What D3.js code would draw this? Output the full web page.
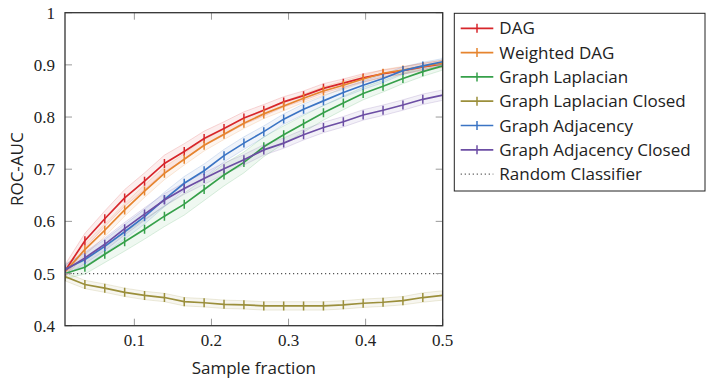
<!DOCTYPE html>
<html>
<head>
<meta charset="utf-8">
<script src="https://cdn.jsdelivr.net/npm/d3@7"></script>
<style>
  body { margin: 0; background: #fff; }
  svg { display: block; }
</style>
</head>
<body>
<div id="chart"></div>
<script>
// sample fractions (x positions of the points)
var fractions = [0.01, 0.0358, 0.0616, 0.0874, 0.1132, 0.139, 0.1647, 0.1905, 0.2163, 0.2421,
                 0.2679, 0.2937, 0.3195, 0.3453, 0.3711, 0.3968, 0.4226, 0.4484, 0.4742, 0.5];

var seriesNames = ["DAG", "Weighted DAG", "Graph Laplacian", "Graph Laplacian Closed",
                   "Graph Adjacency", "Graph Adjacency Closed"];
var seriesColors = ["#d7262b", "#e6842e", "#36a04a", "#9b8f3b", "#3b74c4", "#6c4ea4"];

// mean ROC-AUC per series
var dag = [0.505, 0.563, 0.605, 0.645, 0.677, 0.711, 0.734, 0.759, 0.778, 0.798,
           0.813, 0.829, 0.841, 0.855, 0.865, 0.875, 0.883, 0.889, 0.896, 0.902];
var weightedDag = [0.503, 0.546, 0.583, 0.622, 0.658, 0.692, 0.719, 0.746, 0.767, 0.788,
                   0.806, 0.821, 0.836, 0.850, 0.861, 0.873, 0.884, 0.890, 0.897, 0.903];
var laplacian = [0.500, 0.512, 0.537, 0.561, 0.585, 0.610, 0.633, 0.661, 0.689, 0.713,
                 0.743, 0.766, 0.787, 0.808, 0.827, 0.845, 0.859, 0.874, 0.887, 0.898];
var laplacianClosed = [0.494, 0.479, 0.472, 0.464, 0.458, 0.454, 0.446, 0.444, 0.441, 0.440,
                       0.438, 0.438, 0.438, 0.438, 0.440, 0.443, 0.445, 0.448, 0.454, 0.458];
var adjacency = [0.508, 0.527, 0.552, 0.580, 0.609, 0.642, 0.673, 0.697, 0.726, 0.750,
                 0.772, 0.796, 0.815, 0.831, 0.847, 0.861, 0.874, 0.889, 0.898, 0.906];
var adjacencyClosed = [0.506, 0.530, 0.556, 0.586, 0.614, 0.641, 0.663, 0.682, 0.701, 0.718,
                       0.737, 0.750, 0.766, 0.780, 0.791, 0.804, 0.813, 0.823, 0.834, 0.842];

// half-width of the shaded bands
var dagSpread = [0.012, 0.014, 0.015, 0.016, 0.016, 0.016, 0.015, 0.014, 0.013, 0.012,
                 0.011, 0.010, 0.009, 0.009, 0.008, 0.008, 0.007, 0.007, 0.007, 0.007];
var weightedDagSpread = [0.010, 0.011, 0.012, 0.012, 0.012, 0.012, 0.011, 0.011, 0.010, 0.010,
                         0.009, 0.009, 0.008, 0.008, 0.008, 0.007, 0.007, 0.007, 0.006, 0.006];
var laplacianSpread = [0.010, 0.013, 0.016, 0.018, 0.019, 0.020, 0.021, 0.021, 0.021, 0.020,
                       0.019, 0.017, 0.016, 0.014, 0.013, 0.012, 0.011, 0.010, 0.009, 0.008];
var laplacianClosedSpread = [0.008, 0.008, 0.008, 0.008, 0.008, 0.008, 0.008, 0.008, 0.008, 0.008,
                             0.008, 0.008, 0.008, 0.008, 0.008, 0.008, 0.008, 0.008, 0.009, 0.009];
var adjacencySpread = [0.010, 0.012, 0.013, 0.014, 0.014, 0.014, 0.013, 0.013, 0.012, 0.012,
                       0.011, 0.010, 0.010, 0.009, 0.009, 0.008, 0.008, 0.007, 0.007, 0.006];
var adjacencyClosedSpread = [0.010, 0.011, 0.012, 0.012, 0.012, 0.012, 0.011, 0.011, 0.011, 0.010,
                             0.010, 0.010, 0.010, 0.010, 0.010, 0.010, 0.010, 0.010, 0.010, 0.010];

var randomLevel = 0.5;
var xTicks = [0.1, 0.2, 0.3, 0.4, 0.5];
var yTicks = [0.4, 0.5, 0.6, 0.7, 0.8, 0.9, 1];

var means = [dag, weightedDag, laplacian, laplacianClosed, adjacency, adjacencyClosed];
var spreads = [dagSpread, weightedDagSpread, laplacianSpread, laplacianClosedSpread,
               adjacencySpread, adjacencyClosedSpread];

var series = seriesNames.map(function(name, i) {
  return {
    name: name,
    color: seriesColors[i],
    points: fractions.map(function(f, j) {
      return {x: f, y: means[i][j], s: spreads[i][j]};
    })
  };
});

// dimensions
var W = 706, H = 384;
var plot = {left: 65, right: 442.7, top: 12.7, bottom: 325.7};

var svg = d3.select("#chart").append("svg")
  .attr("width", W)
  .attr("height", H);

var x = d3.scaleLinear().domain([0.01, 0.5]).range([plot.left, plot.right]);
var y = d3.scaleLinear().domain([0.4, 1]).range([plot.bottom, plot.top]);

svg.append("clipPath").attr("id", "clip")
  .append("rect")
  .attr("x", plot.left).attr("y", plot.top)
  .attr("width", plot.right - plot.left).attr("height", plot.bottom - plot.top);

var g = svg.append("g").attr("clip-path", "url(#clip)");

var area = d3.area()
  .x(function(d) { return x(d.x); })
  .y0(function(d) { return y(d.y - d.s); })
  .y1(function(d) { return y(d.y + d.s); });
var upper = d3.line().x(function(d) { return x(d.x); }).y(function(d) { return y(d.y + d.s); });
var lower = d3.line().x(function(d) { return x(d.x); }).y(function(d) { return y(d.y - d.s); });
var line = d3.line().x(function(d) { return x(d.x); }).y(function(d) { return y(d.y); });

// bands
series.forEach(function(s) {
  g.append("path").attr("d", area(s.points))
    .attr("fill", s.color).attr("fill-opacity", 0.08).attr("stroke", "none");
  [upper, lower].forEach(function(fn) {
    g.append("path").attr("d", fn(s.points))
      .attr("fill", "none").attr("stroke", s.color)
      .attr("stroke-opacity", 0.22).attr("stroke-width", 0.8);
  });
});

// random classifier
g.append("line")
  .attr("x1", plot.left).attr("x2", plot.right)
  .attr("y1", y(randomLevel)).attr("y2", y(randomLevel))
  .attr("stroke", "#555").attr("stroke-width", 1.2)
  .attr("stroke-dasharray", "1.2,2.8");

// lines with | marks
series.forEach(function(s) {
  g.append("path").attr("d", line(s.points))
    .attr("fill", "none").attr("stroke", s.color).attr("stroke-width", 1.7);
  g.selectAll(null).data(s.points).enter().append("line")
    .attr("x1", function(d) { return x(d.x); })
    .attr("x2", function(d) { return x(d.x); })
    .attr("y1", function(d) { return y(d.y) - 4.5; })
    .attr("y2", function(d) { return y(d.y) + 4.5; })
    .attr("stroke", s.color).attr("stroke-width", 1.5);
});

// ticks (inward, mirrored)
var tickLen = 7;
var ticks = svg.append("g").attr("stroke", "#9a9a9a").attr("stroke-width", 1);
xTicks.forEach(function(t) {
  ticks.append("line").attr("x1", x(t)).attr("x2", x(t))
    .attr("y1", plot.bottom).attr("y2", plot.bottom - tickLen);
  ticks.append("line").attr("x1", x(t)).attr("x2", x(t))
    .attr("y1", plot.top).attr("y2", plot.top + tickLen);
});
yTicks.forEach(function(t) {
  ticks.append("line").attr("y1", y(t)).attr("y2", y(t))
    .attr("x1", plot.left).attr("x2", plot.left + tickLen);
  ticks.append("line").attr("y1", y(t)).attr("y2", y(t))
    .attr("x1", plot.right).attr("x2", plot.right - tickLen);
});

// frame
svg.append("rect")
  .attr("x", plot.left).attr("y", plot.top)
  .attr("width", plot.right - plot.left).attr("height", plot.bottom - plot.top)
  .attr("fill", "none").attr("stroke", "#333").attr("stroke-width", 1.3);

// tick labels
var serif = "'Liberation Serif', 'DejaVu Serif', serif";
var sans = "'Open Sans', 'DejaVu Sans', sans-serif";
var fmt = function(t) { return t === 1 ? "1" : d3.format(".1f")(t); };

svg.selectAll(".xlab").data(xTicks).enter().append("text")
  .attr("x", function(d) { return x(d); })
  .attr("y", plot.bottom + 20)
  .attr("text-anchor", "middle")
  .style("font-family", serif).style("font-size", "17px").attr("fill", "#222")
  .text(fmt);

svg.selectAll(".ylab").data(yTicks).enter().append("text")
  .attr("x", plot.left - 10)
  .attr("y", function(d) { return y(d) + 6; })
  .attr("text-anchor", "end")
  .style("font-family", serif).style("font-size", "17px").attr("fill", "#222")
  .text(fmt);

// axis titles
svg.append("text")
  .attr("x", (plot.left + plot.right) / 2).attr("y", 374)
  .attr("text-anchor", "middle")
  .style("font-family", sans).style("font-size", "17px").attr("fill", "#222")
  .text("Sample fraction");

svg.append("text")
  .attr("transform", "translate(23," + ((plot.top + plot.bottom) / 2) + ") rotate(-90)")
  .attr("text-anchor", "middle")
  .style("font-family", sans).style("font-size", "17px").attr("fill", "#222")
  .text("ROC-AUC");

// legend
var legend = svg.append("g");
legend.append("rect")
  .attr("x", 454.3).attr("y", 13.3)
  .attr("width", 250.7).attr("height", 177.7)
  .attr("fill", "#fff").attr("stroke", "#222").attr("stroke-width", 1);

var legendItems = series.map(function(s) { return {name: s.name, color: s.color, dotted: false}; });
legendItems.push({name: "Random Classifier", color: "#555", dotted: true});

var item = legend.selectAll(".item").data(legendItems).enter().append("g")
  .attr("transform", function(d, i) { return "translate(0," + (28.3 + i * 24.3) + ")"; });

item.append("line")
  .attr("x1", 460.7).attr("x2", 493.3)
  .attr("stroke", function(d) { return d.color; })
  .attr("stroke-width", function(d) { return d.dotted ? 1.2 : 1.7; })
  .attr("stroke-dasharray", function(d) { return d.dotted ? "1.2,2.8" : null; });
item.filter(function(d) { return !d.dotted; }).append("line")
  .attr("x1", 477).attr("x2", 477).attr("y1", -4.5).attr("y2", 4.5)
  .attr("stroke", function(d) { return d.color; }).attr("stroke-width", 1.5);
item.append("text")
  .attr("x", 499.3).attr("y", 6)
  .style("font-family", sans).style("font-size", "17px").attr("fill", "#222")
  .text(function(d) { return d.name; });
</script>
</body>
</html>
